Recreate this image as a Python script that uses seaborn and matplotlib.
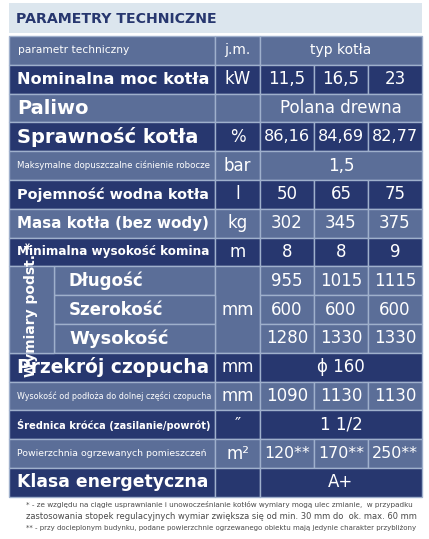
import matplotlib
matplotlib.use("Agg")
import matplotlib.pyplot as plt
import seaborn as sns
from matplotlib.patches import Rectangle

sns.set_theme(style="white")
plt.rcParams['font.family'] = ['Liberation Sans Narrow', 'DejaVu Sans']

title = "PARAMETRY TECHNICZNE"
header = ["parametr techniczny", "j.m.", "typ kotła"]
params = ["Nominalna moc kotła", "Paliwo", "Sprawność kotła",
          "Maksymalne dopuszczalne ciśnienie robocze", "Pojemność wodna kotła",
          "Masa kotła (bez wody)", "Minimalna wysokość komina",
          "Długość", "Szerokość", "Wysokość", "Przekrój czopucha",
          "Wysokość od podłoża do dolnej części czopucha",
          "Średnica króćca (zasilanie/powrót)",
          "Powierzchnia ogrzewanych pomieszczeń", "Klasa energetyczna"]
units = ["kW", "", "%", "bar", "l", "kg", "m", "mm", None, None, "mm", "mm", "″", "m²", ""]
values = [["11,5", "16,5", "23"], ["Polana drewna"], ["86,16", "84,69", "82,77"],
          ["1,5"], ["50", "65", "75"], ["302", "345", "375"], ["8", "8", "9"],
          ["955", "1015", "1115"], ["600", "600", "600"], ["1280", "1330", "1330"],
          ["ϕ 160"], ["1090", "1130", "1130"], ["1 1/2"],
          ["120**", "170**", "250**"], ["A+"]]
sizes = [14, 14, 14, 9, 14, 14, 14, 12, 12, 13, 14, 9, 13, 11, 14]
group_label = "Wymiary podst. *"
footnotes = ["* - ze względu na ciągłe usprawnianie i unowocześnianie kotłów wymiary mogą ulec zmianie,  w przypadku",
             "zastosowania stopek regulacyjnych wymiar zwiększa się od min. 30 mm do  ok. max. 60 mm",
             "** - przy docieplonym budynku, podane powierzchnie ogrzewanego obiektu mają jedynie charakter przybliżony"]

DARK = "#27376f"
LIGHT = "#5b6e98"
GRID = "#9fb0cc"
W, H = 429, 539
fig = plt.figure(figsize=(W/100, H/100), dpi=100)
ax = fig.add_axes([0, 0, 1, 1])
ax.set_xlim(0, W); ax.set_ylim(H, 0); ax.axis("off")
renderer = fig.canvas.get_renderer()

def fit(t, maxw):
    w = t.get_window_extent(renderer).width
    if w > maxw:
        t.set_fontsize(t.get_fontsize() * maxw / w)
    return t

L, R = 9, 422
cx = [9, 215, 260, 314, 368, 422]
top, rh = 36, 28.8

ax.add_patch(Rectangle((L, 3), R-L, 30, color="#dce6ee", lw=0))
fit(ax.text(16, 19, title, color="#27376f", fontsize=16, fontweight="bold", va="center"), 200)

def cell(x0, x1, y0, y1, col):
    ax.add_patch(Rectangle((x0, y0), x1-x0, y1-y0, facecolor=col, edgecolor=GRID, lw=1))

y0 = top
cell(cx[0], cx[1], y0, y0+rh, LIGHT); cell(cx[1], cx[2], y0, y0+rh, LIGHT); cell(cx[2], cx[5], y0, y0+rh, LIGHT)
fit(ax.text(cx[0]+9, y0+rh/2, header[0], color="white", fontsize=10, va="center"), 110)
ax.text((cx[1]+cx[2])/2, y0+rh/2, header[1], color="white", fontsize=10, va="center", ha="center")
ax.text((cx[2]+cx[5])/2, y0+rh/2, header[2], color="white", fontsize=10, va="center", ha="center")

for i, p in enumerate(params):
    ys = top + rh*(i+1); ye = ys + rh
    if 7 <= i <= 9:
        col = LIGHT
    else:
        k = i if i < 7 else i - 2
        col = DARK if k % 2 == 0 else LIGHT
    bold = i not in (3, 11, 13)
    if 7 <= i <= 9:
        cell(cx[0]+45, cx[1], ys, ye, col)
        fit(ax.text(cx[0]+60, (ys+ye)/2, p, color="white", fontsize=sizes[i], fontweight="bold", va="center"), 140)
    else:
        cell(cx[0], cx[1], ys, ye, col)
        fit(ax.text(cx[0]+8, (ys+ye)/2, p, color="white", fontsize=sizes[i],
                    fontweight="bold" if bold else "normal", va="center"), 192)
    if units[i] is not None:
        if i == 7:
            cell(cx[1], cx[2], ys, ys+3*rh, col)
            ax.text((cx[1]+cx[2])/2, ys+1.5*rh, units[i], color="white", fontsize=12, va="center", ha="center")
        else:
            cell(cx[1], cx[2], ys, ye, col)
            fit(ax.text((cx[1]+cx[2])/2, (ys+ye)/2, units[i], color="white", fontsize=12, va="center", ha="center"), 36)
    v = values[i]
    if len(v) == 1:
        cell(cx[2], cx[5], ys, ye, col)
        ax.text((cx[2]+cx[5])/2, (ys+ye)/2, v[0], color="white", fontsize=12,
                va="center", ha="center")
    else:
        for j, s in enumerate(v):
            cell(cx[2+j], cx[3+j], ys, ye, col)
            fit(ax.text((cx[2+j]+cx[3+j])/2, (ys+ye)/2, s, color="white", fontsize=12,
                        va="center", ha="center"), 46)

gy = top + rh*8
cell(cx[0], cx[0]+45, gy, gy+3*rh, LIGHT)
fit(ax.text(cx[0]+22, gy+1.5*rh, group_label, color="white", fontsize=10, fontweight="bold",
            rotation=90, va="center", ha="center"), 30)

for k, f in enumerate(footnotes):
    fit(ax.text(26, 505+k*11.5, f, color="#4a4a4a", fontsize=6, va="center"), 394)

fig.savefig("out.png", dpi=100)
